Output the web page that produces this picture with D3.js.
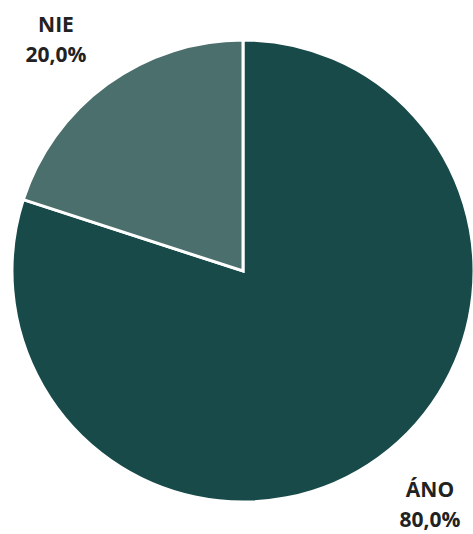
<!DOCTYPE html>
<html>
<head>
<meta charset="utf-8">
<script src="https://cdn.jsdelivr.net/npm/d3@7"></script>
<style>
  html, body { margin: 0; padding: 0; background: #fff; }
  svg { display: block; }
</style>
</head>
<body>
<svg id="chart" width="473" height="534"></svg>
<script>
const labels = ['ÁNO', 'NIE'];
const values = [80.0, 20.0];
const colors = ['#174A48', '#4A6F6C'];

const svg = d3.select('#chart');
const cx = 243, cy = 271, radius = 231;

const pie = d3.pie().sort(null).value(d => d.value);
const arc = d3.arc().innerRadius(0).outerRadius(radius);

const data = labels.map((l, i) => ({label: l, value: values[i], color: colors[i]}));

const g = svg.append('g').attr('transform', `translate(${cx}, ${cy})`);

g.selectAll('path')
  .data(pie(data))
  .join('path')
  .attr('d', arc)
  .attr('fill', d => d.data.color)
  .attr('stroke', '#fff')
  .attr('stroke-width', 3)
  .attr('stroke-linejoin', 'miter');

// label positions (baseline of first line), outside the pie
const labelPos = {'ÁNO': [430, 497], 'NIE': [56, 32]};
const fmt = v => v.toFixed(1).replace('.', ',') + '%';

data.forEach(d => {
  const [x, y] = labelPos[d.label];
  const t = svg.append('text')
    .attr('x', x)
    .attr('y', y)
    .attr('text-anchor', 'middle')
    .style('font-family', '"Open Sans", "DejaVu Sans", sans-serif')
    .style('font-weight', 'bold')
    .style('font-size', '21px')
    .style('fill', '#222');
  t.append('tspan').attr('x', x).text(d.label);
  t.append('tspan').attr('x', x).attr('dy', 30).text(fmt(d.value));
});
</script>
</body>
</html>
